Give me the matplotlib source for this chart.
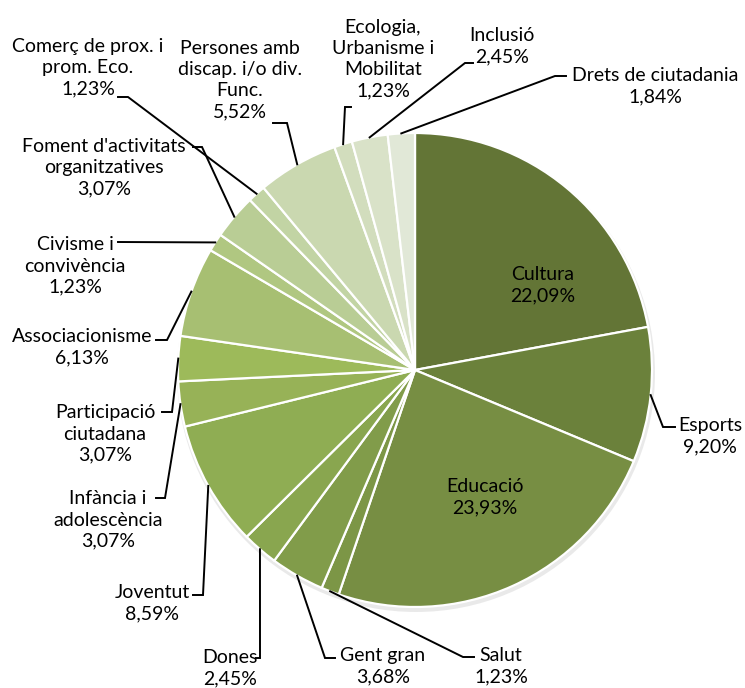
import numpy as np
import matplotlib
matplotlib.use("Agg")
import matplotlib.pyplot as plt
from matplotlib.patches import Circle

plt.rcParams['font.family'] = ['Lato', 'DejaVu Sans']

# ---- data (clockwise from 12 o'clock) ----
categories = ["Cultura", "Esports", "Educació", "Salut", "Gent gran", "Dones",
              "Joventut", "Infància i\nadolescència", "Participació\nciutadana",
              "Associacionisme", "Civisme i\nconvivència",
              "Foment d'activitats\norganitzatives", "Comerç de prox. i\nprom. Eco.",
              "Persones amb\ndiscap. i/o div.\nFunc.", "Ecologia,\nUrbanisme i\nMobilitat",
              "Inclusió", "Drets de ciutadania"]
values = [22.09, 9.20, 23.93, 1.23, 3.68, 2.45, 8.59, 3.07, 3.07, 6.13, 1.23,
          3.07, 1.23, 5.52, 1.23, 2.45, 1.84]
colors = ["#637536", "#6b813b", "#778e43", "#7c9646", "#819c4a", "#89a64f",
          "#8fad53", "#97b257", "#9dba5a", "#a7bf72", "#b0c781", "#b9cd95",
          "#c2d4a4", "#cad8b0", "#d2ddbd", "#d9e2c8", "#e1e8d7"]

W, H = 745, 688
CX, CY, R = 415, 370, 237


def fy(y):
    return H - y


fig = plt.figure(figsize=(W / 100, H / 100), dpi=100)
ax = fig.add_axes([0, 0, 1, 1])

# soft shadow
ax.add_patch(Circle((CX + 1, fy(CY) - 3), R + 2, color="#b8b8b8", alpha=0.3, zorder=0, lw=0))

wedges, _ = ax.pie(values, colors=colors, startangle=90, counterclock=False,
                   center=(CX, fy(CY)), radius=R,
                   wedgeprops=dict(edgecolor="white", linewidth=1.6))
for w in wedges:
    w.set_zorder(2)

ax.set_xlim(0, W)
ax.set_ylim(0, H)
ax.set_aspect('equal')
ax.axis('off')


def fmt(v):
    return f"{v:.2f}".replace(".", ",") + "%"


# layout: text centre, elbow, end of leader (pixel coords, y down); None = inside label
layout = [
    ((543, 285), None, None),
    ((710, 436), (663, 427), (675, 427)),
    ((485, 497), None, None),
    ((501, 666), (463, 657), (474, 657)),
    ((383, 666), (325, 658), (335, 658)),
    ((230, 668), (260, 658), (256, 658)),
    ((152, 603), (203, 595), (193, 595)),
    ((108, 520), (165, 498), (156, 498)),
    ((105, 434), (172, 412), (162, 412)),
    ((82, 347), (167, 340), (156, 340)),
    ((75, 266), (118, 242), (118, 242)),
    ((104, 168), (202, 147), (193, 147)),
    ((88, 68), (128, 97), (118, 97)),
    ((240, 80), (287, 123), (273, 123)),
    ((383, 59), (345, 107), (351, 107)),
    ((502, 46), (465, 63), (473, 63)),
    ((655, 86), (555, 76), (566, 76)),
]

total = sum(values)
cum = np.cumsum([0] + values)
for i, (cat, v) in enumerate(zip(categories, values)):
    (tx, ty), elbow, end = layout[i]
    ax.text(tx, fy(ty), cat + "\n" + fmt(v), ha="center", va="center",
            fontsize=14, linespacing=1.3, color="black", zorder=5)
    if elbow is None:
        continue
    mid = (cum[i] + cum[i + 1]) / 2 / total
    ang = np.deg2rad(90 - 360 * mid)
    sx = CX + R * np.cos(ang)
    sy = fy(CY) + R * np.sin(ang)
    ax.plot([sx, elbow[0], end[0]], [sy, fy(elbow[1]), fy(end[1])],
            color="black", lw=1.4, solid_joinstyle="miter", zorder=4)

fig.savefig("out.png", dpi=100)
